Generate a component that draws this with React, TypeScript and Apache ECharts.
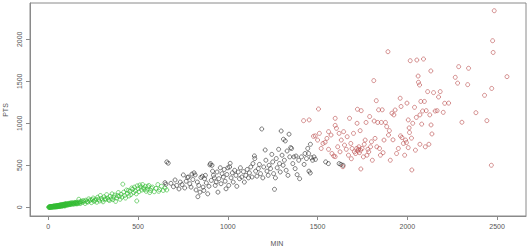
import React, { useEffect, useRef } from "react";
import * as echarts from "echarts";

const xTicks = [0, 500, 1000, 1500, 2000, 2500];
const yTicks = [0, 500, 1000, 1500, 2000];
const xTitle = "MIN";
const yTitle = "PTS";

const greenPts: number[][] = [
  [2,0],[4,2],[5,1],[6,3],[8,4],[9,0],[10,1],[11,6],[12,5],[14,2],[15,3],[16,8],[18,6],[19,1],[20,8],[21,3],[22,4],[24,11],[25,10],[26,2],[28,7],[29,13],[30,12],[31,4],[32,5],[34,16],[35,9],[36,3],[38,14],[39,7],[40,11],[41,18],[42,6],[44,12],[45,15],[46,4],[48,10],[49,20],[50,18],[51,8],[52,13],[54,22],[55,8],[56,15],[58,20],[59,11],[60,16],[61,25],[62,22],[64,10],[65,12],[66,27],[68,25],[69,17],[70,19],[71,30],[72,14],[74,23],[75,28],[76,12],[78,22],[79,33],[80,17],[81,26],[82,30],[84,20],[85,25],[86,36],[88,20],[89,30],[90,33],[91,15],[92,27],[94,40],[95,38],[96,24],[98,30],[99,42],[100,24],[102,35],[105,40],[107,28],[108,35],[110,28],[112,46],[115,45],[117,32],[118,38],[120,32],[122,50],[125,48],[127,36],[130,42],[132,55],[135,36],[138,47],[140,50],[143,38],[145,44],[148,58],[150,55],[153,46],[155,40],[158,52],[160,60],[163,42],[165,48],[170,95],[172,62],[175,52],[178,44],[180,65],[185,72],[190,58],[195,80],[200,70],[205,45],[210,85],[215,66],[220,62],[225,100],[230,75],[235,88],[240,55],[245,90],[250,110],[255,70],[260,82],[265,96],[270,60],[275,120],[280,95],[285,75],[290,140],[295,105],[300,85],[305,65],[310,125],[315,100],[320,95],[325,150],[330,110],[335,90],[340,80],[345,130],[350,100],[355,160],[360,90],[365,120],[370,145],[375,70],[380,110],[385,140],[390,175],[395,130],[400,95],[405,155],[410,120],[415,275],[420,180],[425,140],[430,110],[435,205],[440,165],[445,200],[450,135],[455,190],[460,150],[465,230],[470,215],[475,175],[480,240],[485,195],[490,160],[493,75],[495,255],[500,220],[505,185],[510,265],[515,240],[520,205],[525,270],[530,230],[535,210],[540,250],[545,190],[550,215],[555,245],[560,260],[565,175],[570,200],[575,225],[580,240],[590,185],[600,225],[610,270],[615,190],[620,210],[630,250],[640,200],[650,230],[660,206]
];

const blackPts: number[][] = [
  [650,293],[655,274],[660,540],[668,525],[683,285],[697,245],[706,325],[715,260],[728,218],[735,300],[745,270],[752,385],[760,230],[768,310],[775,355],[780,360],[788,280],[795,240],[800,395],[805,330],[812,410],[818,385],[823,206],[830,300],[833,126],[838,260],[845,180],[850,355],[858,370],[862,240],[866,200],[870,340],[875,380],[880,290],[888,160],[895,250],[900,505],[903,520],[908,320],[912,500],[915,430],[920,380],[925,350],[930,260],[935,300],[940,420],[945,180],[950,340],[958,470],[962,280],[968,400],[975,360],[980,450],[985,310],[990,220],[995,390],[1000,470],[1005,260],[1010,480],[1013,523],[1018,350],[1025,410],[1030,300],[1038,440],[1045,380],[1050,250],[1058,420],[1065,340],[1070,470],[1078,360],[1087,424],[1092,300],[1100,380],[1108,450],[1115,350],[1120,410],[1128,480],[1135,360],[1140,520],[1148,611],[1150,580],[1155,430],[1162,370],[1170,460],[1176,510],[1182,400],[1189,932],[1195,350],[1200,480],[1208,682],[1212,560],[1218,430],[1225,380],[1230,500],[1238,460],[1245,630],[1250,540],[1255,400],[1260,214],[1265,350],[1270,580],[1275,470],[1283,690],[1288,520],[1292,420],[1297,908],[1302,620],[1308,500],[1310,810],[1315,560],[1320,790],[1325,440],[1330,670],[1335,380],[1341,870],[1345,600],[1350,710],[1355,700],[1362,520],[1368,600],[1375,460],[1380,610],[1386,388],[1395,560],[1400,340],[1410,600],[1425,510],[1430,640],[1438,580],[1445,700],[1450,640],[1452,430],[1459,408],[1460,750],[1465,590],[1472,560],[1480,600],[1488,570],[1545,540],[1560,520],[1620,520],[1630,510],[1642,500]
];

const redPts: number[][] = [
  [1422,1031],[1453,1040],[1477,845],[1487,850],[1505,1170],[1500,800],[1510,880],[1520,700],[1530,760],[1542,774],[1552,820],[1561,900],[1561,690],[1575,860],[1580,640],[1590,610],[1598,1059],[1598,975],[1598,603],[1605,940],[1612,720],[1620,880],[1625,660],[1632,800],[1641,483],[1645,900],[1650,740],[1660,690],[1665,840],[1672,620],[1678,1059],[1685,760],[1688,578],[1692,700],[1700,880],[1705,660],[1712,640],[1718,700],[1720,1000],[1722,1167],[1724,670],[1728,690],[1730,720],[1733,650],[1737,912],[1740,680],[1741,456],[1743,1150],[1748,700],[1755,600],[1760,750],[1765,800],[1770,1010],[1775,620],[1780,690],[1785,660],[1790,1080],[1795,720],[1800,780],[1805,560],[1813,1508],[1815,1027],[1820,820],[1827,1269],[1830,720],[1835,1010],[1840,1160],[1845,700],[1850,620],[1855,1010],[1860,1160],[1865,650],[1870,800],[1878,1010],[1885,960],[1892,1852],[1895,860],[1900,912],[1905,560],[1914,1120],[1920,803],[1925,1100],[1932,1158],[1940,640],[1950,700],[1960,1298],[1962,850],[1965,1200],[1970,830],[1978,760],[1985,620],[1990,800],[1995,770],[1998,1240],[2005,1040],[2005,710],[2010,945],[2012,890],[2016,1745],[2023,823],[2025,444],[2030,1000],[2040,1190],[2045,680],[2050,1070],[2053,1753],[2060,1562],[2062,1488],[2068,1456],[2070,1100],[2070,750],[2075,1260],[2080,990],[2085,1146],[2090,1765],[2095,1260],[2100,720],[2105,1150],[2113,1377],[2120,750],[2125,1100],[2131,1623],[2132,980],[2137,873],[2146,1365],[2155,1146],[2166,1150],[2174,1313],[2183,1377],[2200,1130],[2208,1238],[2230,1240],[2267,1547],[2280,1478],[2286,1674],[2304,1012],[2336,1460],[2341,1655],[2382,1126],[2430,1333],[2443,1031],[2468,500],[2470,1415],[2475,1983],[2478,1843],[2484,2340],[2555,1555]
];

const seriesDefs = [
  { name: "low", data: greenPts, color: "#33bb33" },
  { name: "mid", data: blackPts, color: "#333333" },
  { name: "high", data: redPts, color: "#bb5050" },
];

export default function App() {
  const ref = useRef<HTMLDivElement>(null);
  useEffect(() => {
    if (!ref.current) return;
    const chart = echarts.init(ref.current, undefined, { renderer: "svg" });
    const font = "'Liberation Sans', Arial, sans-serif";
    chart.setOption({
      animation: false,
      backgroundColor: "#ffffff",
      grid: {
        left: 30,
        top: 3,
        right: 4,
        bottom: 32,
        show: true,
        borderColor: "#8a8a8a",
        borderWidth: 1,
      },
      xAxis: {
        type: "value",
        min: -102,
        max: 2661,
        axisLine: { show: true, onZero: false, lineStyle: { color: "#8a8a8a" } },
        axisTick: { show: true, length: 4, inside: false, customValues: xTicks, lineStyle: { color: "#8a8a8a" } },
        axisLabel: { show: true, customValues: xTicks, formatter: (v: number) => String(v), margin: 7, fontSize: 7, color: "#555", fontFamily: font },
        splitLine: { show: false },
      },
      yAxis: {
        type: "value",
        min: -104,
        max: 2432,
        axisLine: { show: true, onZero: false, lineStyle: { color: "#8a8a8a" } },
        axisTick: { show: true, length: 4, inside: false, customValues: yTicks, lineStyle: { color: "#8a8a8a" } },
        axisLabel: { show: true, customValues: yTicks, formatter: (v: number) => String(v), rotate: 90, margin: 7, fontSize: 7, color: "#555", fontFamily: font },
        splitLine: { show: false },
      },
      graphic: [
        { type: "text", x: 277, y: 243, style: { text: xTitle, fontSize: 7, fill: "#555", font: `7px ${font}`, textAlign: "center", textVerticalAlign: "middle" } },
        { type: "text", x: 5, y: 110, rotation: Math.PI / 2, style: { text: yTitle, fontSize: 7, fill: "#555", font: `7px ${font}`, textAlign: "center", textVerticalAlign: "middle" } },
      ],
      series: seriesDefs.map((s) => ({
        type: "scatter",
        name: s.name,
        data: s.data,
        symbol: "circle",
        symbolSize: 4,
        itemStyle: { color: "rgba(0,0,0,0)", borderColor: s.color, borderWidth: 0.8 },
        emphasis: { disabled: true },
      })),
    });
    return () => chart.dispose();
  }, []);
  return <div ref={ref} style={{ position: "fixed", left: 0, top: 0, width: 530, height: 248 }} />;
}
